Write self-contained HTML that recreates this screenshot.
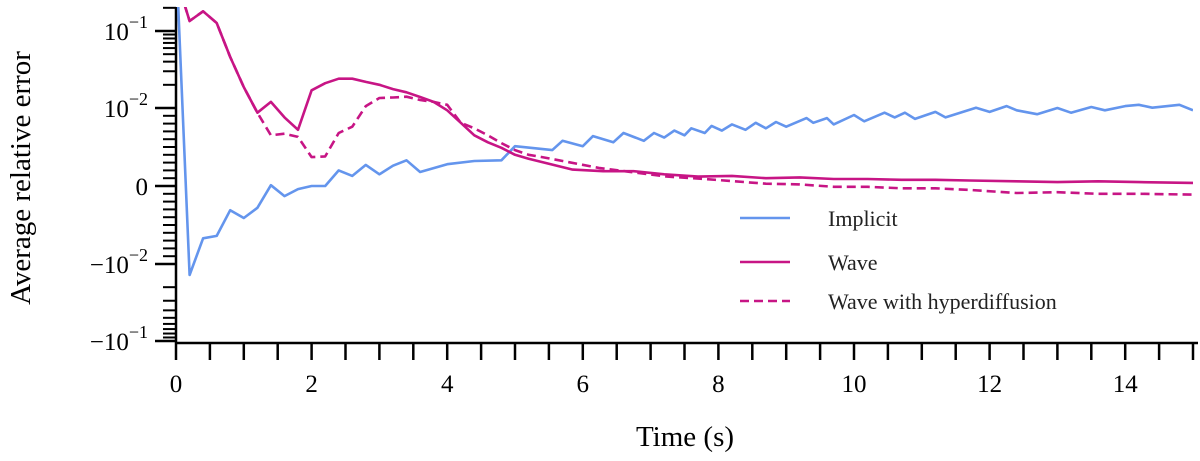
<!DOCTYPE html>
<html><head><meta charset="utf-8"><style>
body{margin:0;background:#fff;}
svg{display:block;font-family:"Liberation Serif",serif;}
</style></head><body>
<svg id="chart" width="1200" height="461" viewBox="0 0 1200 461" xmlns="http://www.w3.org/2000/svg">
<g id="axes"></g>
<g id="series"></g>
<g id="legend"></g>
<text transform="translate(30,178) rotate(-90)" text-anchor="middle" font-size="29">Average relative error</text>
<text x="685" y="446" text-anchor="middle" font-size="29">Time (s)</text>
</svg>
<script>
const implicitT=[0,0.2,0.4,0.6,0.8,1.0,1.2,1.4,1.6,1.8,2.0,2.2,2.4,2.6,2.8,3.0,3.2,3.4,3.6,4.0,4.4,4.8,5.0,5.55,5.7,6.0,6.15,6.45,6.6,6.9,7.05,7.2,7.35,7.5,7.6,7.8,7.9,8.05,8.2,8.4,8.55,8.7,8.85,9.0,9.3,9.4,9.6,9.7,10.0,10.15,10.45,10.6,10.75,10.9,11.2,11.35,11.8,12.0,12.25,12.4,12.7,13.0,13.2,13.5,13.7,14.0,14.2,14.4,14.8,15.0];
const implicitV=[1.0,-0.0139,-0.0067,-0.0064,-0.0031,-0.0041,-0.0028,0.0001,-0.0013,-0.0004,0,0,0.002,0.0013,0.0027,0.0015,0.0026,0.0033,0.0018,0.0028,0.0032,0.0033,0.0051,0.0046,0.0058,0.0051,0.0064,0.0056,0.0068,0.0058,0.0068,0.0062,0.0071,0.0065,0.0074,0.0068,0.0077,0.0071,0.0079,0.0072,0.0081,0.0074,0.0082,0.0076,0.0087,0.0081,0.0087,0.0079,0.0091,0.0083,0.0094,0.0088,0.0094,0.0086,0.0095,0.0088,0.0101,0.0095,0.0106,0.0097,0.0092,0.0100,0.0094,0.0103,0.0097,0.0106,0.0110,0.0101,0.0110,0.0097];
const waveT=[0,0.2,0.4,0.6,0.8,1.0,1.2,1.4,1.6,1.8,2.0,2.2,2.4,2.6,2.8,3.0,3.2,3.4,3.6,3.8,4.0,4.2,4.4,4.6,4.8,5.0,5.2,5.85,6.3,6.75,7.2,7.7,8.2,8.7,9.2,9.7,10.2,10.7,11.2,11.7,12.4,13.0,13.6,14.2,15.0];
const waveV=[0.5,0.135,0.18,0.127,0.046,0.0187,0.0094,0.012,0.0088,0.0072,0.017,0.021,0.024,0.024,0.0218,0.020,0.0176,0.016,0.0139,0.012,0.0097,0.0081,0.0065,0.0056,0.0049,0.004,0.0035,0.0021,0.0019,0.0019,0.0015,0.0012,0.0013,0.001,0.0011,0.0009,0.0009,0.0008,0.0008,0.0007,0.0006,0.0005,0.0006,0.0005,0.0004];
const hyperT=[0,0.2,0.4,0.6,0.8,1.0,1.2,1.4,1.6,1.8,2.0,2.2,2.4,2.6,2.8,3.0,3.2,3.4,3.6,3.8,4.0,4.2,4.4,4.6,4.8,5.0,5.2,5.4,6.25,7.25,7.8,8.7,9.2,9.7,10.2,10.7,11.2,11.7,12.4,13.0,13.6,14.2,15.0];
const hyperV=[0.5,0.135,0.18,0.127,0.046,0.0187,0.0094,0.0065,0.0067,0.0063,0.0037,0.0038,0.0068,0.0076,0.0106,0.0135,0.0137,0.014,0.0127,0.012,0.011,0.0081,0.0074,0.0065,0.0055,0.0046,0.004,0.0037,0.0023,0.0012,0.0009,0.0003,0.0002,-0.0001,-0.0001,-0.0003,-0.0003,-0.0005,-0.0009,-0.0008,-0.0010,-0.0010,-0.0011];
const xTickLabels=[0,2,4,6,8,10,12,14];
const yTickValues=[0.1,0.01,0,-0.01,-0.1];
const yTickLabels=[["10","−1"],["10","−2"],["0",""],["−10","−2"],["−10","−1"]];

const NS="http://www.w3.org/2000/svg";
const X0=176,X1=1193,Y0=186,LIN=78,DEC=77,TOP=7,BOT=343;
function sx(t){return X0+(t/15)*(X1-X0);}
function sy(v){const a=Math.abs(v);if(a<=0.01)return Y0-v/0.01*LIN;return Y0-Math.sign(v)*(LIN+DEC*Math.log10(a/0.01));}
function mk(tag,attrs,parent){const e=document.createElementNS(NS,tag);for(const k in attrs)e.setAttribute(k,attrs[k]);parent.appendChild(e);return e;}
const axes=document.getElementById('axes'),series=document.getElementById('series'),legend=document.getElementById('legend');
// clip
const defs=mk('defs',{},document.getElementById('chart'));
const cp=mk('clipPath',{id:'clip'},defs);mk('rect',{x:X0,y:TOP,width:X1-X0,height:BOT-TOP},cp);
// spines
let e=mk('line',{x1:X0,y1:TOP,x2:X0,y2:BOT,stroke:'#000','stroke-width':2.5},axes);

e=mk('line',{x1:X0-1,y1:BOT,x2:X1+5,y2:BOT,stroke:'#000','stroke-width':2.5},axes);

// y minor ticks
const minor=[];
for(let i=1;i<10;i++){minor.push(i*0.001);minor.push(-i*0.001);}
for(let i=2;i<10;i++){minor.push(i*0.01);minor.push(-i*0.01);}
minor.push(0.2);
minor.forEach(v=>{const y=sy(v);if(y<TOP-1||y>BOT+1)return;const m=mk('line',{x1:163,y1:y,x2:X0,y2:y,stroke:'#000','stroke-width':2},axes);
});
yTickValues.forEach((v,i)=>{const y=sy(v);
const m=mk('line',{x1:155,y1:y,x2:X0,y2:y,stroke:'#000','stroke-width':2.5},axes);

const tx=mk('text',{x:148,y:y+9,'text-anchor':'end','font-size':25},axes);

const lab=yTickLabels[i];
if(lab[1]){tx.textContent=lab[0];const ts=mk('tspan',{dy:-12,'font-size':18},tx);ts.textContent=lab[1];
tx.setAttribute('x',148);tx.setAttribute('text-anchor','end');}else tx.textContent=lab[0];});
// x ticks
for(let t=0;t<=15;t+=0.5){const x=sx(t);const m=mk('line',{x1:x,y1:BOT,x2:x,y2:360,stroke:'#000','stroke-width':2.5},axes);
}
xTickLabels.forEach(t=>{const tx=mk('text',{x:sx(t),y:392,'text-anchor':'middle','font-size':25},axes);tx.textContent=t;
});
// series
function line(T,V,color,dash,name){const d=T.map((t,i)=>(i?'L':'M')+sx(t).toFixed(1)+','+sy(V[i]).toFixed(1)).join('');
const p=mk('path',{d:d,fill:'none',stroke:color,'stroke-width':2.6,'stroke-linejoin':'round','clip-path':'url(#clip)'},series);
if(dash)p.setAttribute('stroke-dasharray','9,5');
}
line(implicitT,implicitV,'#6495ED',false,'implicit-line');
line(waveT,waveV,'#C71585',false,'wave-line');
line(hyperT,hyperV,'#C71585',true,'wave-hyperdiffusion-line');
// legend
const L=[['Implicit','#6495ED',false,218],['Wave','#C71585',false,262],['Wave with hyperdiffusion','#C71585',true,301]];
L.forEach(l=>{const g=mk('g',{},legend);
const ln=mk('line',{x1:740,y1:l[3],x2:790,y2:l[3],stroke:l[1],'stroke-width':2.6},g);if(l[2])ln.setAttribute('stroke-dasharray','9,5');
const tx=mk('text',{x:828,y:l[3]+8,'font-size':22,fill:'#222'},g);tx.textContent=l[0];});
</script>
</body></html>
